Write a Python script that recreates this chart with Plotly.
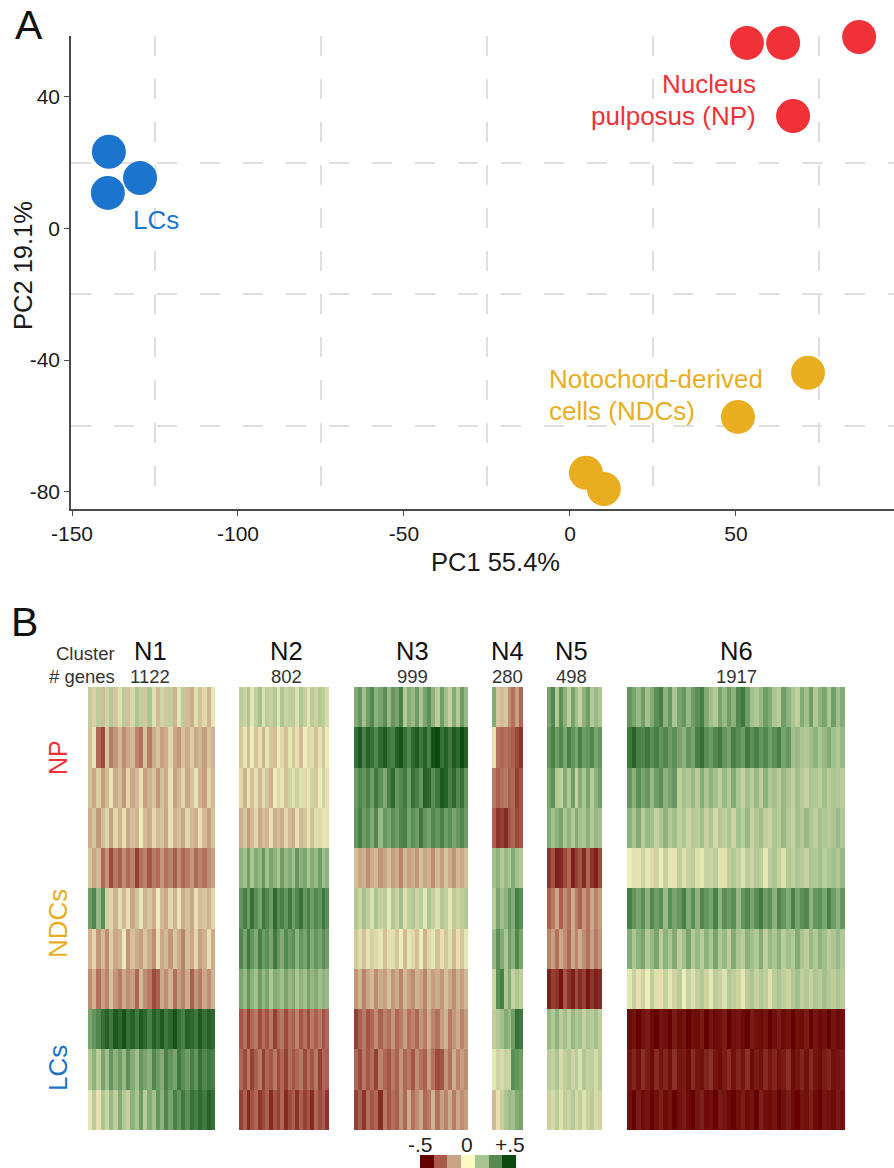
import plotly.graph_objects as go

W, H = 894, 1168

# ---------- Panel A data (PC1, PC2) ----------
lc_x = [-138.9, -129.5, -139.2]
lc_y = [23.3, 15.3, 10.8]
np_x = [53.3, 64.2, 87.1, 67.2]
np_y = [56.4, 56.4, 58.2, 34.2]
ndc_x = [71.7, 50.6, 4.8, 10.2]
ndc_y = [-43.9, -57.3, -74.3, -79.2]
x_ticks = [-150, -100, -50, 0, 50]
x_tick_labels = ["-150", "-100", "-50", "0", "50"]
y_ticks = [-80, -40, 0, 40]
y_tick_labels = ["-80", "-40", "0", "40"]
x_grid = [-125, -75, -25, 25, 75]
y_grid = [-60, -20, 20]

# ---------- Panel B data (hundredths of scaled expression, rows top to bottom) ----------
cluster_names = ["N1", "N2", "N3", "N4", "N5", "N6"]
cluster_genes = ["1122", "802", "999", "280", "498", "1917"]
row_groups = ["NP", "NDCs", "LCs"]

N1 = [
 [10,-5,12,-10,6,14,-6,4,12,-8,5,16,10,-6,16,4,-10,6,-6,10,-12,3,12,-10,-14,4,-8,-4,-12,3],
 [-8,3,-30,-36,-6,-26,-20,-10,-22,-16,-10,-24,-28,-8,-26,-14,-6,-18,-14,-4,-16,-20,-8,-14,-5,-16,-10,-18,-6,-12],
 [-8,-16,-5,-18,-10,3,-14,-8,-20,-4,-16,-10,-3,-18,-12,-6,-20,-8,-14,-3,-18,-10,-4,-16,-8,3,-12,-18,-4,-10],
 [-14,-6,-20,-10,5,-18,-4,-12,-3,-16,-8,-12,2,-10,-14,-4,-10,-6,-16,-3,-12,-8,-16,-4,-10,-14,-3,-10,-18,-6],
 [-6,-16,-10,-30,-20,-36,-26,-32,-22,-30,-24,-38,-28,-24,-34,-26,-30,-20,-28,-24,-32,-22,-30,-26,-20,-30,-24,-28,-22,-18],
 [28,34,20,32,6,-4,-12,4,-10,-3,-16,-8,3,-12,-6,-14,2,-10,-16,-4,-12,3,-14,-8,-16,-3,-10,-6,-12,-4],
 [-12,-4,-20,-10,-22,-5,-16,-12,-2,-20,-8,-14,-18,-6,-14,-22,-3,-16,-10,-20,-6,-14,-24,-8,-16,-4,-18,-12,-3,-14],
 [-22,-12,-28,-18,-24,-8,-20,-26,-14,-22,-18,-30,-10,-22,-26,-36,-32,-16,-22,-12,-28,-18,-24,-14,-32,-20,-26,-16,-22,-12],
 [26,30,34,40,44,38,46,42,48,40,44,38,46,42,36,44,40,46,38,42,48,40,36,44,42,38,46,40,44,42],
 [14,22,12,26,18,30,22,28,20,32,24,18,30,26,22,34,28,24,36,30,26,38,32,28,36,30,40,34,38,36],
 [3,12,-3,16,6,20,10,24,14,8,22,16,28,12,24,18,30,22,34,26,36,30,38,32,40,36,42,38,44,40],
]
N2 = [
 [12,6,16,3,10,18,4,12,8,14,3,16,6,10,12,4,16,8,3,12,6,14,10,5],
 [-6,3,-10,2,-8,-3,-12,3,-6,-10,2,-4,-8,3,-6,-3,-10,2,-4,4,-8,-3,-6,2],
 [-4,-12,3,-8,-3,-10,4,-6,-12,2,-4,3,-8,6,-3,8,4,-4,3,6,-6,2,6,-3],
 [-14,-6,-18,-10,-4,-16,-8,-12,-3,-14,-8,-14,-4,-10,-14,-3,-10,-6,3,-8,4,-4,3,-3],
 [22,18,28,16,24,20,30,18,26,22,16,28,20,24,18,30,22,26,16,24,20,28,18,22],
 [30,36,28,40,32,26,38,34,28,42,32,36,30,38,28,34,40,30,36,28,34,30,38,32],
 [34,26,38,30,24,36,28,32,26,38,30,24,34,28,32,22,30,26,34,24,30,26,32,28],
 [26,20,30,22,18,28,20,26,16,24,22,18,26,20,24,16,22,18,26,20,24,18,22,20],
 [-34,-28,-38,-30,-26,-36,-28,-34,-26,-38,-30,-26,-36,-28,-32,-24,-34,-28,-36,-26,-32,-26,-34,-30],
 [-30,-36,-26,-38,-32,-26,-38,-30,-34,-26,-36,-30,-38,-28,-34,-30,-26,-36,-28,-34,-26,-38,-30,-32],
 [-38,-32,-42,-34,-30,-40,-36,-32,-42,-34,-38,-30,-42,-36,-32,-40,-32,-38,-34,-42,-30,-36,-32,-40],
]
N3 = [
 [24,30,18,28,34,22,26,32,20,30,26,36,14,24,20,28,16,26,32,22,12,28,18,8,24,14,28,20],
 [40,46,36,44,40,34,42,46,38,36,44,48,40,34,42,46,38,44,36,48,50,40,44,38,46,42,50,44],
 [28,34,30,36,28,38,32,24,36,42,30,34,38,28,40,36,30,44,42,32,38,46,44,36,42,34,40,30],
 [30,36,28,32,24,34,20,30,26,32,28,34,36,26,32,28,38,30,26,34,30,36,28,32,26,30,34,28],
 [-8,-16,-12,-22,-14,-10,-20,-16,-8,-18,-14,-24,-10,-18,-14,-20,-8,-16,-12,-22,-10,-18,-6,-14,-20,-10,-16,-8],
 [14,6,18,10,4,16,8,12,3,14,6,18,4,10,14,6,12,3,16,8,4,14,10,3,12,6,10,14],
 [-6,4,-8,-3,6,-4,3,-8,-3,4,-6,2,-10,3,-4,-8,2,-12,-4,3,-8,-3,-6,4,-10,-3,-6,3],
 [-20,-12,-24,-16,-10,-22,-14,-18,-8,-20,-14,-24,-10,-18,-22,-12,-16,-24,-10,-18,-14,-20,-8,-16,-22,-12,-18,-10],
 [-38,-32,-26,-34,-30,-22,-32,-24,-28,-20,-30,-26,-18,-28,-24,-30,-20,-26,-14,-24,-28,-18,-12,-26,-20,-14,-24,-18],
 [-30,-36,-26,-34,-28,-38,-24,-30,-34,-26,-32,-20,-30,-26,-34,-22,-28,-32,-18,-28,-36,-34,-20,-28,-14,-24,-18,-22],
 [-38,-32,-40,-28,-34,-30,-42,-26,-34,-28,-32,-20,-30,-14,-28,-22,-16,-30,-26,-12,-28,-18,-24,-14,-26,-16,-22,-18],
]
N4 = [
 [24,-6,-10,-6,-22,-28,-18,-30],
 [-3,-28,-30,-28,-30,-32,-36,-40],
 [-26,-32,-28,-26,-32,-30,-38,-34],
 [-32,-40,-38,-42,-34,-30,-36,-34],
 [18,22,14,20,16,24,18,14],
 [12,26,18,22,30,24,36,32],
 [20,32,24,16,28,22,34,26],
 [6,32,36,14,24,8,16,10],
 [10,14,18,24,20,28,40,38],
 [3,6,5,8,6,32,30,28],
 [-10,-3,8,16,20,18,24,26],
]
N5 = [
 [26,34,14,32,22,10,26,18,8,22,28,14,20,16],
 [30,36,28,34,26,36,30,26,36,28,30,34,26,30],
 [26,32,14,10,24,14,28,8,24,16,26,12,22,28],
 [24,18,22,26,16,22,14,24,18,16,22,14,20,18],
 [-40,-34,-44,-42,-36,-30,-44,-38,-34,-42,-30,-40,-44,-36],
 [-32,-26,-16,-32,-22,-28,-14,-26,-32,-20,-28,-16,-24,-18],
 [-24,-18,-28,-16,-22,-30,-16,-24,-14,-22,-28,-18,-26,-20],
 [-44,-38,-40,-46,-34,-40,-44,-36,-42,-38,-46,-40,-44,-42],
 [20,14,22,12,18,10,20,14,18,8,16,12,18,10],
 [12,8,16,5,10,14,6,12,4,14,8,10,5,12],
 [8,5,12,4,10,6,14,5,10,4,8,12,5,6],
]
N6 = [
 [30,26,20,28,18,24,32,36,22,30,16,26,30,20,28,32,36,24,18,14,26,20,28,22,34,38,28,18,14,20,28,24,16,12,28,22,16,10,24,18,28,14,22,26,16,28,18,24],
 [38,44,36,34,38,32,36,30,34,28,32,26,22,30,26,36,40,32,28,34,38,30,26,36,32,28,38,32,36,30,34,28,32,36,26,30,18,20,16,14,18,22,16,20,24,18,14,20],
 [30,22,32,26,30,20,28,32,22,26,30,10,18,14,20,12,24,16,22,18,10,20,14,24,16,8,18,12,20,10,22,14,18,12,20,16,10,18,12,8,16,14,10,18,12,16,14,12],
 [22,16,24,12,20,18,8,16,22,14,18,10,16,6,14,12,18,8,16,5,14,10,16,6,18,12,20,8,14,18,10,6,16,12,20,14,8,18,14,20,16,10,18,14,12,16,20,14],
 [2,4,-3,6,3,-4,6,2,8,3,-3,10,4,8,12,4,3,8,6,12,4,-3,10,14,8,4,12,6,14,10,3,12,16,8,4,14,10,16,12,8,16,14,18,12,16,18,14,20],
 [36,30,26,32,22,34,28,32,20,32,26,30,36,24,32,22,34,30,26,36,22,32,28,32,20,30,34,26,32,38,28,32,22,34,30,24,36,26,32,34,22,30,32,26,36,28,22,30],
 [24,16,22,26,14,20,26,12,22,16,24,10,18,26,14,20,12,22,16,26,14,20,10,24,16,12,22,18,14,24,10,20,16,22,12,18,14,24,16,10,20,14,22,18,12,16,20,14],
 [3,8,-3,6,2,10,4,-3,8,3,6,12,2,8,4,10,14,6,3,12,8,4,14,10,6,3,12,16,8,14,10,4,12,16,10,6,14,18,10,14,8,16,12,18,14,10,16,12],
 [-48,-46,-50,-47,-45,-48,-50,-46,-47,-50,-45,-48,-46,-50,-47,-48,-45,-50,-46,-48,-47,-45,-50,-47,-46,-48,-50,-45,-47,-48,-46,-50,-47,-45,-48,-46,-50,-47,-48,-45,-50,-46,-48,-47,-50,-46,-48,-47],
 [-46,-43,-47,-41,-45,-48,-42,-46,-43,-47,-41,-46,-45,-48,-42,-46,-47,-43,-41,-46,-48,-45,-42,-47,-43,-46,-41,-48,-45,-47,-42,-46,-43,-47,-45,-41,-48,-46,-43,-47,-42,-46,-48,-45,-43,-47,-46,-45],
 [-47,-50,-45,-48,-46,-50,-47,-44,-48,-46,-50,-47,-45,-48,-50,-46,-44,-48,-47,-50,-45,-46,-48,-50,-47,-45,-48,-46,-50,-44,-47,-48,-46,-50,-47,-45,-48,-50,-46,-47,-44,-48,-50,-46,-47,-48,-45,-47],
]
clusters = [N1, N2, N3, N4, N5, N6]
scale_values = [-50, -33, -17, 0, 17, 33, 50]
scale_labels = ["-.5", "0", "+.5"]

# ---------- Styles ----------
RED, ORANGE, BLUE = "#f03238", "#e9ae1f", "#1b74cd"
FONT = "Liberation Sans"
INK = "#1a1a1a"
colorscale = [[0, "#650000"], [1/6, "#a8594a"], [2/6, "#c9a585"], [.44, "#d6c69e"], [.5, "#fbfac4"],
              [.56, "#cdd4a2"], [4/6, "#a9c592"], [5/6, "#558a52"], [1, "#0b4a10"]]

px = lambda x: x / W
py = lambda y: 1 - y / H

fig = go.Figure()
for xs, ys, c in [(lc_x, lc_y, BLUE), (ndc_x, ndc_y, ORANGE), (np_x, np_y, RED)]:
    fig.add_trace(go.Scatter(x=xs, y=ys, mode="markers", cliponaxis=False,
                             marker=dict(size=34, color=c, line=dict(width=0))))

axis_common = dict(showline=True, linecolor="#4a4a4a", linewidth=1.6, ticks="outside", ticklen=5,
                   tickcolor="#4a4a4a", tickwidth=1.4, zeroline=False, showgrid=False,
                   tickfont=dict(family=FONT, size=21, color=INK))
grid = dict(showgrid=True, gridcolor="#dedede", gridwidth=1.6, griddash="20px,23px", ticks="")
fig.update_layout(
    xaxis=dict(domain=[px(71), 1], range=[-150.3, 97.6], tickvals=x_ticks, ticktext=x_tick_labels,
               minor=dict(tickvals=x_grid, **grid), **axis_common),
    yaxis=dict(domain=[py(509), py(36)], range=[-85.3, 58.5], tickvals=y_ticks, ticktext=y_tick_labels,
               minor=dict(tickvals=y_grid, **grid), **axis_common),
)

# Heatmap panels: pixel spans of each cluster column block
spans = [(88, 215), (239, 329), (354, 468), (492, 523), (547, 602), (627, 845)]
label_centers = [150, 286, 412, 507, 571, 736]
hidden = dict(visible=False)
fig.update_layout(yaxis2=dict(domain=[py(1130), py(687)], range=[10.5, -0.5], **hidden))
for i, (data, (a, b)) in enumerate(zip(clusters, spans)):
    ax = f"xaxis{i + 2}"
    fig.add_trace(go.Heatmap(z=[[v / 100 for v in row] for row in data], xaxis=f"x{i + 2}", yaxis="y2",
                             colorscale=colorscale, zmin=-.5, zmax=.5, showscale=False))
    fig.update_layout({ax: dict(domain=[px(a), px(b)], anchor="y2", **hidden)})

# Colour key
fig.add_trace(go.Heatmap(z=[[v / 100 for v in scale_values]], xaxis="x8", yaxis="y3",
                         colorscale=colorscale, zmin=-.5, zmax=.5, showscale=False))
fig.update_layout(xaxis8=dict(domain=[px(420), px(516)], anchor="y3", **hidden),
                  yaxis3=dict(domain=[0, py(1155)], anchor="x8", **hidden))

def label(text, x, y, size, color=INK, anchor="center", angle=0):
    fig.add_annotation(text=text, x=px(x), y=py(y), xref="paper", yref="paper", showarrow=False,
                       xanchor=anchor, yanchor="middle", textangle=angle, align=anchor,
                       font=dict(family=FONT, size=size, color=color))

label("A", 13, 25, 41, "#111", "left")
label("B", 9, 622, 41, "#111", "left")
label("PC1 55.4%", 495, 562, 25.5)
label("PC2 19.1%", 23, 266, 25.5, angle=-90)
label("Nucleus", 758, 84, 26, RED, "right")
label("pulposus (NP)", 758, 116, 26, RED, "right")
label("Notochord-derived", 547, 379, 26, ORANGE, "left")
label("cells (NDCs)", 547, 411, 26, ORANGE, "left")
label("LCs", 131, 220, 26, BLUE, "left")
label("Cluster", 117, 653, 18.5, "#333", "right")
label("# genes", 117, 676, 18.5, "#333", "right")
for name, n, cx in zip(cluster_names, cluster_genes, label_centers):
    label(name, cx, 651, 25.5, "#111")
    label(n, cx, 676, 18.5, "#333")
label(row_groups[0], 58, 757, 25, RED, angle=-90)
label(row_groups[1], 58, 923, 26, ORANGE, angle=-90)
label(row_groups[2], 58, 1068, 26, BLUE, angle=-90)
for t, x in zip(scale_labels, (420, 467, 510)):
    label(t, x, 1144, 21, "#222")

fig.update_layout(width=W, height=H, autosize=False, margin=dict(l=0, r=0, t=0, b=0, autoexpand=False),
                  paper_bgcolor="white", plot_bgcolor="white", showlegend=False)
fig.write_html("out.html", config=dict(displayModeBar=False),
               post_script="document.body.style.margin='0';document.documentElement.style.overflow='hidden';")
